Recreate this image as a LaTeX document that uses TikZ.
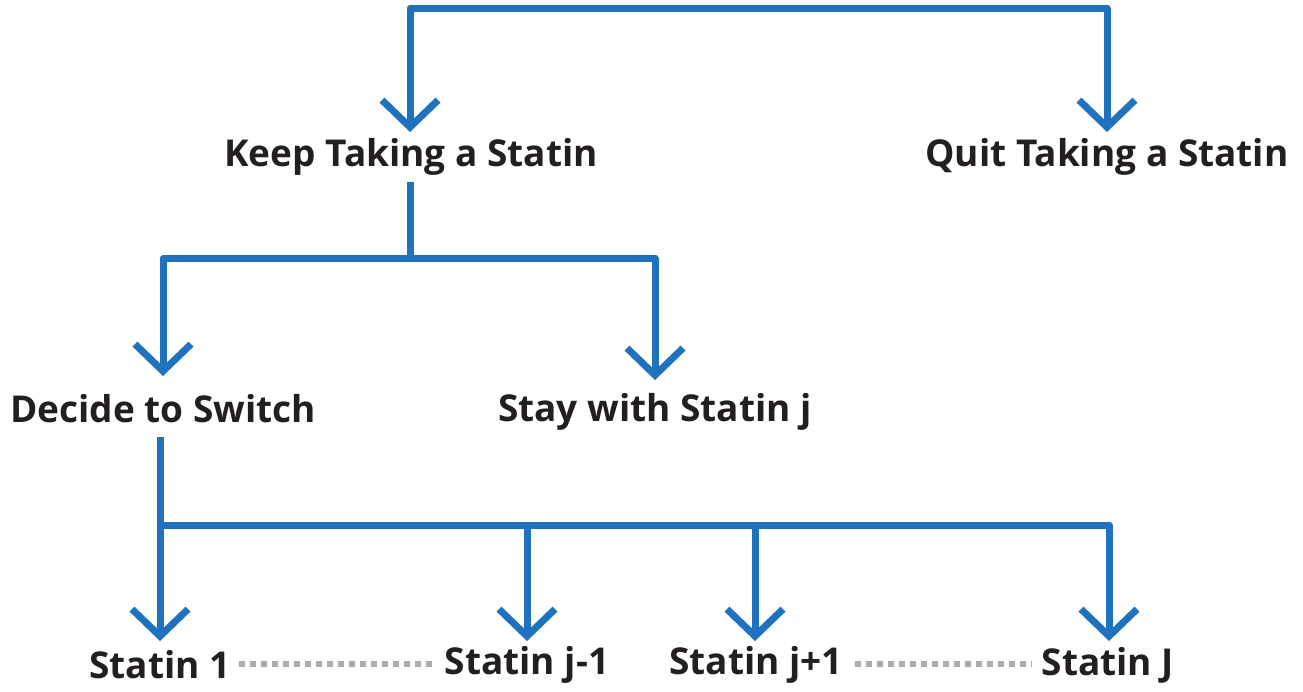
\documentclass[tikz,border=0pt]{standalone}
\usepackage{fontspec}
\setmainfont{Open Sans}
\usetikzlibrary{arrows.meta}
\definecolor{lineblue}{RGB}{31,114,190}
\definecolor{dotgray}{RGB}{172,172,172}
\definecolor{txt}{RGB}{35,31,32}
\begin{document}
\begin{tikzpicture}[x=1pt,y=-1pt,
  lbl/.style={inner sep=0pt,font=\fontsize{37}{42}\selectfont\bfseries,text=txt},
  conn/.style={draw=lineblue,line width=7pt,line join=round},
  tip/.style={-{Straight Barb[length=27pt,width=56pt,line width=7pt]}},
  tips/.style={{Straight Barb[length=27pt,width=56pt,line width=7pt]}-{Straight Barb[length=27pt,width=56pt,line width=7pt]}},
  dots/.style={draw=dotgray,line width=6pt,dash pattern=on 6pt off 5pt}]
\useasboundingbox (0,0) rectangle (1303,691);
% labels
\node[lbl] (keep) at (411,157) {Keep Taking a Statin};
\node[lbl] (quit) at (1107,157) {Quit Taking a Statin};
\node[lbl] (decide) at (163,409) {Decide to Switch};
\node[lbl] (stay) at (655,412) {Stay with Statin j};
\node[lbl] (s1) at (160,665) {Statin 1};
\node[lbl] (sjm) at (527,665) {Statin j-1};
\node[lbl] (sjp) at (756,665) {Statin j+1};
\node[lbl] (sJ) at (1108,665) {Statin J};
% junction coordinates
\coordinate (topL) at (410,8);
\coordinate (topR) at (1107,8);
\coordinate (keepin) at (410,132);
\coordinate (quitin) at (1107,132);
\coordinate (keepout) at (410,182);
\coordinate (mid) at (410,258);
\coordinate (decin) at (163,376);
\coordinate (stayin) at (655,380);
\coordinate (decout) at (160,437);
\coordinate (low) at (160,525);
\coordinate (s1in) at (160,641);
\coordinate (sjmin) at (527,641);
\coordinate (sjpin) at (755,641);
\coordinate (sJin) at (1109,641);
% connectors
\draw[conn,tips] (keepin) -- (topL) -- (topR) -- (quitin);
\draw[conn] (keepout) -- (mid);
\draw[conn,tips] (decin) |- (mid) -| (stayin);
\draw[conn,tip] (decout) -- (s1in);
\draw[conn,tip] (low) -| (sJin);
\draw[conn,tip] (low -| sjmin) -- (sjmin);
\draw[conn,tip] (low -| sjpin) -- (sjpin);
% dotted links
\draw[dots] ([xshift=8pt,yshift=1pt]s1.east) -- ([xshift=-12pt,yshift=1pt]sjm.west);
\draw[dots] ([xshift=12pt,yshift=1pt]sjp.east) -- ([xshift=-10pt,yshift=1pt]sJ.west);
\end{tikzpicture}
\end{document}
